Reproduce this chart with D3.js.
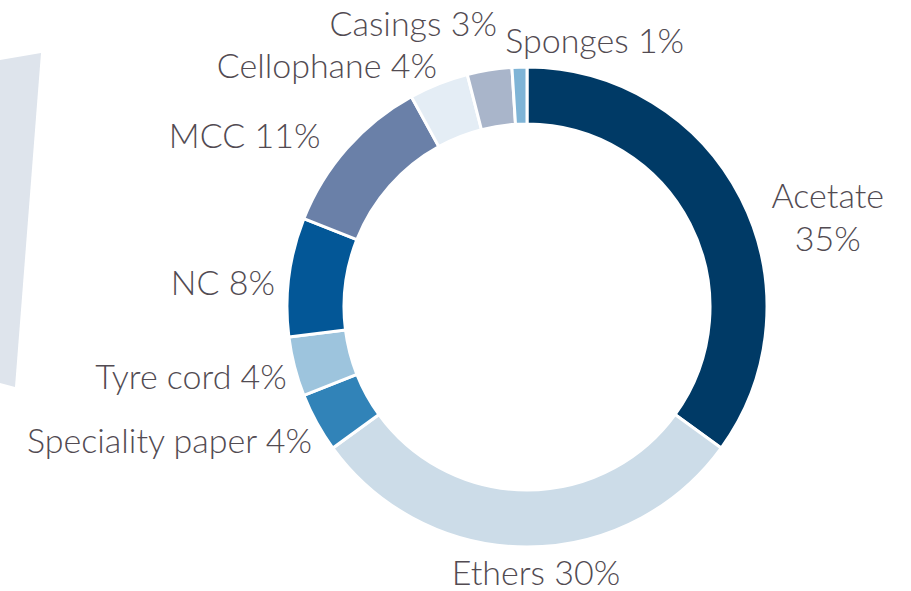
<!DOCTYPE html>
<html>
<head>
    <script src="https://cdn.jsdelivr.net/npm/d3@7"></script>
    <style>
        body {
            margin: 0;
            background-color: white;
        }

        .label {
            font-family: Lato, "Open Sans", sans-serif;
            font-weight: 300;
            font-size: 34px;
            fill: #524b52;
        }
    </style>
</head>
<body>
    <div id="chart"></div>
    <script>
        const categories = ['Acetate', 'Ethers', 'Speciality paper', 'Tyre cord', 'NC', 'MCC', 'Cellophane', 'Casings', 'Sponges']
        const values = [35, 30, 4, 4, 8, 11, 4, 3, 1]
        const colors = ['#003a66', '#ccdce8', '#3183b8', '#9dc4dd', '#035797', '#6a80a8', '#e4edf5', '#a9b5ca', '#7fb4d6']

        // label placement: nudge from the arc point at labelR, and text anchor
        const labelNudge = [[78, 14], [9, 28], [4, 26], [2, 20], [-4, 19], [-19, 6], [2, 3], [9, -24], [-14, -4]]
        const labelAnchor = ['middle', 'middle', 'end', 'end', 'end', 'end', 'end', 'end', 'start']

        const w = 911
        const h = 591
        const cx = 527
        const cy = 307
        const outerR = 240
        const innerR = 183
        const labelR = 250

        const svg = d3.select('#chart')
            .append('svg')
            .attr('width', w)
            .attr('height', h)

        // decorative panel on the left
        svg.append('polygon')
            .attr('points', '0,60 41,53 15,387 0,383')
            .attr('fill', '#dee4ec')

        const data = categories.map((c, i) => ({ name: c, value: values[i], i }))

        const pie = d3.pie()
            .value(d => d.value)
            .sort(null)

        const arc = d3.arc()
            .innerRadius(innerR)
            .outerRadius(outerR)

        const g = svg.append('g')
            .attr('transform', `translate(${cx}, ${cy})`)

        const arcs = pie(data)

        g.selectAll('path')
            .data(arcs)
            .enter()
            .append('path')
            .attr('d', arc)
            .attr('fill', d => colors[d.data.i])
            .attr('stroke', 'white')
            .attr('stroke-width', 3)

        const labels = g.selectAll('text')
            .data(arcs)
            .enter()
            .append('text')
            .attr('class', 'label')
            .attr('text-anchor', d => labelAnchor[d.data.i])
            .attr('transform', d => {
                const a = (d.startAngle + d.endAngle) / 2
                const x = Math.sin(a) * labelR + labelNudge[d.data.i][0]
                const y = -Math.cos(a) * labelR + labelNudge[d.data.i][1]
                return `translate(${x}, ${y})`
            })

        labels.each(function (d) {
            const t = d3.select(this)
            if (d.data.name === 'Acetate') {
                t.append('tspan').attr('x', 0).attr('y', 0).text(d.data.name)
                t.append('tspan').attr('x', 0).attr('y', 43).text(d.data.value + '%')
            } else {
                t.text(`${d.data.name} ${d.data.value}%`)
            }
        })
    </script>
</body>
</html>
